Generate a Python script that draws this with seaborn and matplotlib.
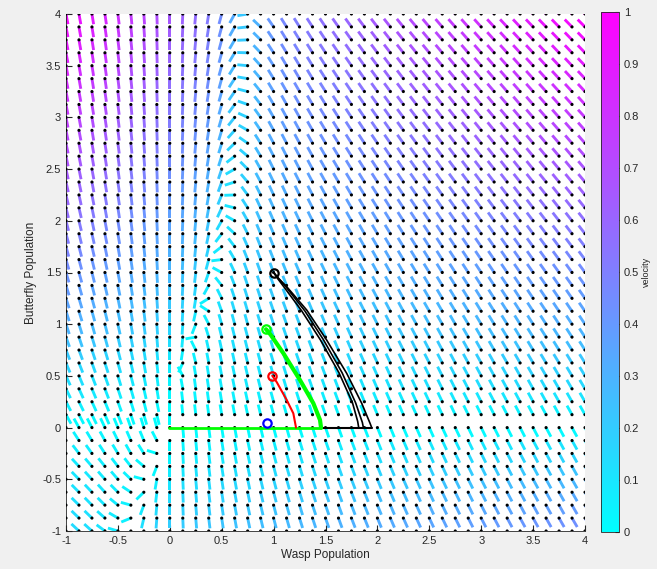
import numpy as np
import matplotlib
matplotlib.use('Agg')
import matplotlib.pyplot as plt
import seaborn as sns
import pandas as pd

# grid of the direction field (41 x 41 points)
grid_x = np.linspace(-1, 4, 41)
grid_y = np.linspace(-1, 4, 41)

# direction-field model, tuned by eye to the reference
wasp_rate = 0.44      # pull on wasps
wasp_tilt = 0.15      # how that pull grows with butterflies
left_bump = 1.0       # extra tilt left of x = 0 around y = 0.8
null_top = 0.85       # butterfly nullcline x -> null_top for large y
null_half = 1.8
neg_slope = 0.45      # nullcline slope below y = 0
turn_width = 0.25     # how sharply arrows turn at the nullcline
right_step, right_slope = 1.2, 0.5
left_step, left_slope = 0.6, 0.7
y_shift = 0.03        # where the flow reverses
neg_boost = 1.5       # extra speed below y = 0
gamma = 0.75          # colour scaling of the speed
arrow_len = 0.1

# trajectories
black_a_x = [1.0, 1.05, 1.126, 1.319, 1.511, 1.704, 1.849, 1.929, 1.945]
black_a_y = [1.5, 1.44, 1.363, 1.137, 0.847, 0.525, 0.235, 0.042, 0.0]
black_b_x = [1.0, 1.05, 1.12, 1.30, 1.48, 1.66, 1.79, 1.855, 1.865]
black_b_y = [1.5, 1.44, 1.36, 1.13, 0.85, 0.53, 0.24, 0.05, 0.0]
black_c_x = [1.0, 1.04, 1.10, 1.27, 1.45, 1.63, 1.76, 1.81, 1.82]
black_c_y = [1.5, 1.44, 1.36, 1.13, 0.85, 0.53, 0.24, 0.06, 0.0]
black_flat_x = [1.45, 1.945]
black_flat_y = [0.0, 0.0]
green_x = [0.927, 0.97, 1.094, 1.254, 1.383, 1.447, 1.457]
green_y = [0.951, 0.90, 0.719, 0.460, 0.235, 0.074, 0.0]
green_flat_x = [-0.01, 1.457]
green_flat_y = [0.0, 0.0]
red_x = [0.987, 1.03, 1.126, 1.19, 1.216]
red_y = [0.502, 0.44, 0.267, 0.138, 0.0]
start_x = [1.0, 0.927, 0.987, 0.933]
start_y = [1.5, 0.951, 0.502, 0.047]
start_colors = ['black', '#00ff00', 'red', 'blue']


def nullcline(y):
    return np.where(y >= 0, null_top * y ** 2 / (null_half + y ** 2), neg_slope * y)


def field(x, y):
    d = x - nullcline(y)
    gu = -wasp_rate * x * (1 + wasp_tilt * np.abs(y))
    gu = gu * np.where(x < 0, 1 + left_bump * np.exp(-((y - 0.8) / 1.5) ** 2), 1.0)
    left_gain = 1 + np.clip(y, -0.4, 1)
    gv_right = right_step * np.tanh(d / turn_width) + right_slope * d
    gv_left = left_gain * (left_step * np.tanh(d / turn_width) + left_slope * d)
    gv = np.where(d < 0, gv_left, gv_right)
    s = np.where(y < 0, neg_boost, 1.0) * (y - y_shift)
    return s * gu, s * gv


X, Y = np.meshgrid(grid_x, grid_y)
U, V = field(X, Y)
speed = np.hypot(U, V)
vel = (speed / speed.max()) ** gamma
U = U / speed * arrow_len
V = V / speed * arrow_len

fig = plt.figure(figsize=(6.57, 5.69), dpi=100)
fig.patch.set_facecolor('#f0f0f0')
sns.set_style('white')
plt.rcParams['font.family'] = ['Liberation Sans', 'DejaVu Sans']

ax = fig.add_axes([66 / 657, 1 - 531 / 569, (585 - 66) / 657, (531 - 14) / 569])
q = ax.quiver(X, Y, U, V, vel, cmap='cool', clim=(0, 1), angles='xy',
              scale_units='xy', scale=1, width=0.0055, headwidth=1,
              headlength=0, headaxislength=0, zorder=2)

grid_df = pd.DataFrame({'x': X.ravel(), 'y': Y.ravel()})
sns.scatterplot(data=grid_df, x='x', y='y', color='black', s=5,
                edgecolor='none', ax=ax, zorder=3, legend=False)

for tx, ty, c, lw in [(black_flat_x, black_flat_y, 'black', 1.5),
                      (black_a_x, black_a_y, 'black', 1.2),
                      (black_b_x, black_b_y, 'black', 1.2),
                      (black_c_x, black_c_y, 'black', 1.2),
                      (green_flat_x, green_flat_y, '#00ff00', 2),
                      (green_x, green_y, '#00ff00', 3),
                      (red_x, red_y, 'red', 1.5)]:
    sns.lineplot(x=tx, y=ty, sort=False, estimator=None, color=c,
                 linewidth=lw, ax=ax, zorder=4)

for sx, sy, c in zip(start_x, start_y, start_colors):
    ax.plot(sx, sy, 'o', mfc='none', mec=c, ms=6, mew=1.6, zorder=5)

ticks = np.arange(-1, 4.01, 0.5)
ax.set_xlim(-1, 4)
ax.set_ylim(-1, 4)
ax.set_xticks(ticks)
ax.set_yticks(ticks)
ax.set_xticklabels([f'{v:g}' for v in ticks])
ax.set_yticklabels([f'{v:g}' for v in ticks])
ax.tick_params(direction='in', length=4, labelsize=8, colors='#262626',
               left=True, bottom=True)
for side in ['top', 'right']:
    ax.spines[side].set_visible(False)
for side in ['left', 'bottom']:
    ax.spines[side].set_color('#262626')
    ax.spines[side].set_linewidth(0.6)
ax.set_xlabel('Wasp Population', fontsize=8.5, color='#262626', labelpad=2)
ax.set_ylabel('Butterfly Population', fontsize=8.5, color='#262626', labelpad=4)

cax = fig.add_axes([601 / 657, 1 - 532 / 569, 18 / 657, (532 - 12) / 569])
cb = fig.colorbar(q, cax=cax)
cb_ticks = np.arange(0, 1.01, 0.1)
cb.set_ticks(cb_ticks)
cb.set_ticklabels([f'{v:g}' for v in cb_ticks])
cb.ax.tick_params(direction='in', length=3, labelsize=8, colors='#262626')
cb.outline.set_edgecolor('#262626')
cb.outline.set_linewidth(0.6)
cb.set_label('velocity', fontsize=6.5, color='#262626', labelpad=2)

fig.savefig('out.png', dpi=100, facecolor=fig.get_facecolor())
